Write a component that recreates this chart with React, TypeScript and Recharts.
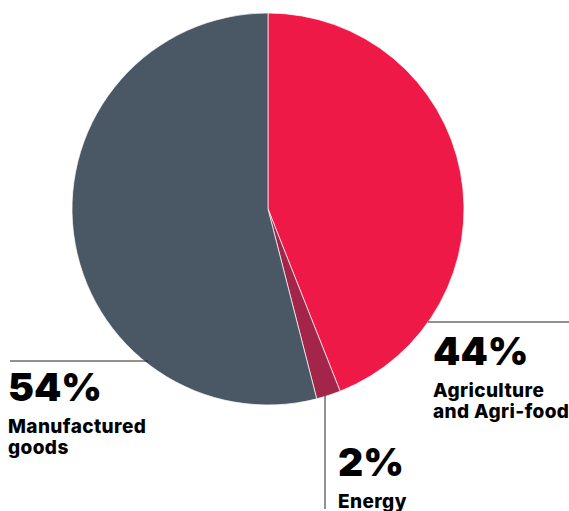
import React from "react";
import { PieChart, Pie, Cell } from "recharts";

const categories = ["Agriculture and Agri-food", "Energy", "Manufactured goods"];
const shares = [44, 2, 54];
const colors = ["#EE1946", "#A3264A", "#4A5866"];
const labelLines = [["Agriculture", "and Agri-food"], ["Energy"], ["Manufactured", "goods"]];

const data = categories.map((name, i) => ({ name, value: shares[i] }));

const FONT = "Inter, 'Open Sans', sans-serif";

const Callout = ({ x, y, big, lines }: { x: number; y: number; big: string; lines: string[] }) => (
  <g>
    <text x={x} y={y} fontFamily={FONT} fontWeight={900} fontSize={39} fill="#000">{big}</text>
    {lines.map((t, i) => (
      <text key={t} x={x} y={y + 32 + i * 21} fontFamily={FONT} fontWeight={800} fontSize={19} letterSpacing={0.4} fill="#000">{t}</text>
    ))}
  </g>
);

// each callout placed relative to the pie centre
const renderLabel = (props: any) => {
  const { cx, cy, index, value } = props;
  const lines = labelLines[index];
  const big = `${value}%`;
  if (index === 0) {
    return (
      <g>
        <line x1={cx + 160} y1={cy + 113} x2={cx + 301} y2={cy + 113} stroke="#222" strokeWidth={1} />
        <Callout x={cx + 165} y={cy + 156} big={big} lines={lines} />
      </g>
    );
  }
  if (index === 1) {
    return (
      <g>
        <line x1={cx + 57} y1={cy + 187} x2={cx + 57} y2={cy + 300} stroke="#222" strokeWidth={1} />
        <Callout x={cx + 70} y={cy + 267} big={big} lines={lines} />
      </g>
    );
  }
  return (
    <g>
      <line x1={cx - 258} y1={cy + 152} x2={cx - 120} y2={cy + 152} stroke="#222" strokeWidth={1} />
      <Callout x={cx - 260} y={cy + 192} big={big} lines={lines} />
    </g>
  );
};

export default function App() {
  return (
    <div style={{ position: "absolute", left: 0, top: 0, width: 569, height: 511, background: "#fff" }}>
      <PieChart width={569} height={511} margin={{ top: 0, right: 0, bottom: 0, left: 0 }}>
        <Pie
          data={data}
          dataKey="value"
          nameKey="name"
          cx={268}
          cy={209}
          innerRadius={0}
          outerRadius={196}
          startAngle={90}
          endAngle={-270}
          stroke="#fff"
          strokeWidth={0.7}
          label={renderLabel}
          labelLine={false}
          isAnimationActive={false}
        >
          {data.map((d, i) => (
            <Cell key={d.name} fill={colors[i]} />
          ))}
        </Pie>
      </PieChart>
    </div>
  );
}
